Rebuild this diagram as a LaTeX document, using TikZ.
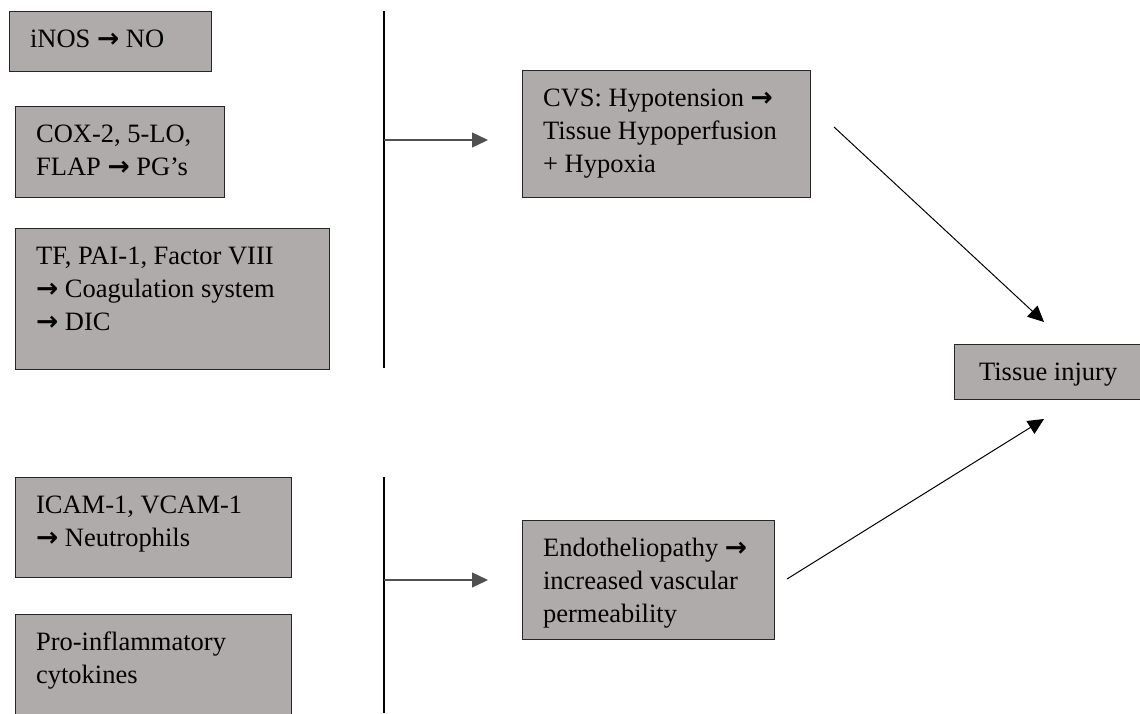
\documentclass[tikz,border=0pt]{standalone}
\usepackage{fontspec}
\setmainfont{Liberation Serif}
\newfontfamily\arrowfont{DejaVu Sans}
\usetikzlibrary{arrows.meta}

\definecolor{boxgray}{RGB}{175,171,170}
\definecolor{linkgray}{RGB}{80,80,80}
\newcommand{\goesto}{{\arrowfont\bfseries →}}
\newcommand{\cell}[3]{\parbox[b][#2][t]{#1}{\raggedright\leftskip=10.25pt\rule{0pt}{17.75pt}#3}}

\begin{document}
\begin{tikzpicture}[
    x=0.5pt, y=-0.5pt,
    base/.style = {rectangle, draw=black!85, line width=0.6pt,
inner sep=0pt, anchor=north west},
process/.style = {base, fill=boxgray},
bar/.style = {draw=black, line width=0.6pt},
link/.style = {draw=linkgray, line width=0.7pt, -{Triangle[length=8pt,width=7.5pt]}},
lead/.style = {draw=black, line width=0.5pt, -{Triangle[length=8pt,width=7.5pt]}},
every node/.style={font=\fontsize{13.25}{16.5}\selectfont}
]
  \clip (0,0) rectangle (1140,713);

  \node (inos) [process] at (9,11) {\cell{101pt}{30pt}{iNOS \goesto{} NO}};
  \node (cox) [process] at (15,106) {\cell{104.5pt}{45.5pt}{COX-2, 5-LO,\\FLAP \goesto{} PG’s}};
  \node (coag) [process] at (15,228) {\cell{157pt}{70.5pt}{TF, PAI-1, Factor VIII\\\goesto{} Coagulation system\\\goesto{} DIC}};
  \node (icam) [process] at (15,477) {\cell{138pt}{50pt}{ICAM-1, VCAM-1\\\goesto{} Neutrophils}};
  \node (cyto) [process] at (15,614) {\cell{138pt}{60pt}{Pro-inflammatory\\cytokines}};
  \node (cvs) [process] at (522,70) {\cell{144pt}{63.5pt}{CVS: Hypotension \goesto\\Tissue Hypoperfusion\\+ Hypoxia}};
  \node (endo) [process] at (522,520) {\cell{126pt}{59.5pt}{Endotheliopathy \goesto\\increased vascular\\permeability}};
  \node (injury) [process] at (954,344) {\cell{100pt}{27.5pt}{\hspace*{2pt}Tissue injury}};

  \coordinate (ubartop) at (384,11);
  \coordinate (ubarbot) at (384,368);
  \coordinate (ujoin) at (384,140);
  \coordinate (uend) at (488,140);
  \coordinate (lbartop) at (384,477);
  \coordinate (lbarbot) at (384,713);
  \coordinate (ljoin) at (384,580);
  \coordinate (lend) at (488,580);
  \coordinate (cvsout) at (834,127);
  \coordinate (injtop) at (1044,322);
  \coordinate (endoout) at (787,579);
  \coordinate (injbot) at (1044,419);

  \draw[bar]    (ubartop) -- (ubarbot);
  \draw[link]   (ujoin) -- (uend);
  \draw[bar]    (lbartop) -- (lbarbot);
  \draw[link]   (ljoin) -- (lend);
  \draw[lead]   (cvsout) -- (injtop);
  \draw[lead]   (endoout) -- (injbot);

\end{tikzpicture}
\end{document}
